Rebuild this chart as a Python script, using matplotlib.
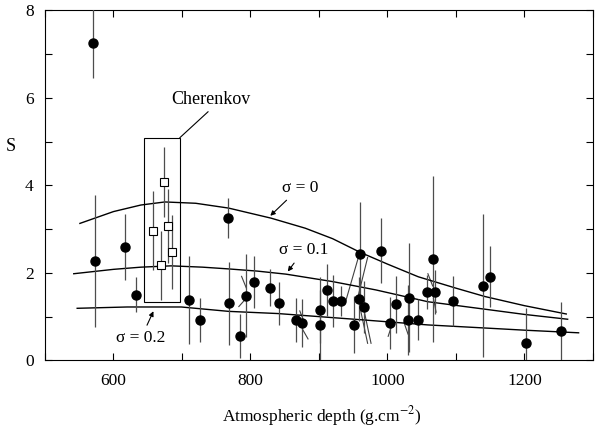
import numpy as np
import matplotlib
matplotlib.use("Agg")
from matplotlib import pyplot as plt

# --- data ---
# ground array points (filled circles)
depth = [570, 573, 617, 633, 710, 726, 767, 768, 784, 794, 805, 828, 842, 867, 875,
         901, 902, 911, 920, 932, 951, 958, 960, 965, 991, 1004, 1012, 1030, 1032,
         1045, 1058, 1067, 1069, 1095, 1140, 1149, 1202, 1254]
s_val = [7.25, 2.27, 2.59, 1.50, 1.38, 0.93, 3.25, 1.30, 0.56, 1.48, 1.79, 1.66, 1.30, 0.93, 0.86,
         1.15, 0.81, 1.61, 1.36, 1.36, 0.81, 1.40, 2.43, 1.22, 2.51, 0.85, 1.28, 0.93, 1.43,
         0.93, 1.56, 2.31, 1.56, 1.36, 1.71, 1.91, 0.39, 0.66]
s_err = [0.8, 1.5, 0.76, 0.4, 1.0, 0.5, 0.45, 0.95, 0.5, 0.95, 0.6, 0.42, 0.5, 0.5, 0.55,
         0.75, 0.8, 0.6, 0.6, 0.35, 0.65, 0.5, 1.2, 0.6, 0.75, 0.6, 0.65, 0.8, 1.25,
         0.47, 0.38, 1.9, 0.5, 0.57, 1.63, 0.7, 0.8, 0.67]

# Cherenkov points (open squares)
ch_depth = [658, 669, 674, 679, 686]
ch_s = [2.96, 2.17, 4.07, 3.07, 2.47]
ch_err = [0.9, 0.78, 0.8, 0.85, 0.85]

# model curves
sig0_x = [551, 600, 640, 675, 720, 768, 830, 880, 920, 960, 1000, 1045, 1100, 1142, 1200, 1261]
sig0_y = [3.13, 3.40, 3.55, 3.62, 3.59, 3.48, 3.25, 3.02, 2.78, 2.47, 2.20, 1.91, 1.65, 1.46, 1.25, 1.06]
sig1_x = [542, 600, 640, 684, 730, 768, 810, 852, 920, 983, 1059, 1142, 1200, 1263]
sig1_y = [1.98, 2.08, 2.13, 2.16, 2.13, 2.09, 2.04, 1.97, 1.80, 1.61, 1.34, 1.17, 1.05, 0.94]
sig2_x = [547, 620, 699, 768, 840, 900, 960, 1059, 1142, 1200, 1279]
sig2_y = [1.19, 1.22, 1.22, 1.12, 1.07, 1.00, 0.93, 0.81, 0.74, 0.69, 0.63]

# short offset lines tying shifted error bars to their points
leaders = [(958, 2.38, 939, 1.35), (971, 2.35, 957, 1.46), (965, 1.20, 976, 0.39),
           (960, 1.20, 971, 0.39), (787, 1.92, 794, 1.65), (783, 1.23, 791, 1.37),
           (878, 0.89, 872, 1.13), (884, 0.49, 876, 0.71), (1059, 1.98, 1066, 1.70),
           (1067, 1.42, 1071, 1.10), (1001, 0.55, 1008, 0.88), (1030, 0.60, 1024, 0.87)]

plt.rcParams['font.family'] = ['Liberation Serif', 'DejaVu Serif']
plt.rcParams['mathtext.fontset'] = 'stix'

fig = plt.figure(figsize=(5.95, 4.28), dpi=100)
ax = fig.add_axes([0.0756, 0.158, 0.921, 0.818])

for x0, y0, x1, y1 in leaders:
    ax.plot([x0, x1], [y0, y1], color='0.25', lw=0.8)

ax.plot(sig0_x, sig0_y, color='black', lw=1.0)
ax.plot(sig1_x, sig1_y, color='black', lw=1.0)
ax.plot(sig2_x, sig2_y, color='black', lw=1.0)

ax.errorbar(depth, s_val, yerr=s_err, fmt='o', color='black', ms=6.5,
            ecolor='0.3', elinewidth=0.9, capsize=0, zorder=3)
ax.errorbar(ch_depth, ch_s, yerr=ch_err, fmt='s', mfc='white', mec='black', mew=0.8,
            ms=6, ecolor='0.3', elinewidth=0.9, capsize=0, zorder=3)

# Cherenkov box and label
ax.add_patch(plt.Rectangle((644, 1.33), 53, 3.76, fill=False, ec='black', lw=0.8))
ax.plot([697, 738], [5.09, 5.68], color='black', lw=0.8)
ax.text(742, 5.95, 'Cherenkov', ha='center', va='center', fontsize=13)

arrow = dict(arrowstyle='-|>', color='black', lw=0.8, mutation_scale=7)
ax.annotate('σ = 0', xy=(826, 3.26), xytext=(872, 3.95), ha='center', va='center',
            fontsize=12.5, arrowprops=arrow)
ax.annotate('σ = 0.1', xy=(852, 1.98), xytext=(878, 2.52), ha='center', va='center',
            fontsize=12.5, arrowprops=arrow)
ax.annotate('σ = 0.2', xy=(660, 1.18), xytext=(640, 0.50), ha='center', va='center',
            fontsize=12.5, arrowprops=arrow)

ax.set_xlim(500, 1300)
ax.set_ylim(0, 8)
ax.set_xticks([600, 800, 1000, 1200])
ax.set_xticks(np.arange(500, 1301, 100), minor=True)
ax.set_yticks([0, 2, 4, 6, 8])
ax.set_yticks(np.arange(0, 8.1, 1), minor=True)
ax.tick_params(which='both', direction='in', top=True, right=True, labelsize=12.5,
               length=5, width=0.8)
ax.tick_params(axis='x', pad=9)
ax.tick_params(axis='y', pad=8)
for sp in ax.spines.values():
    sp.set_linewidth(0.8)

ax.set_xlabel('Atmospheric depth (g.cm$^{-2}$)', fontsize=12.5, va='center')
ax.xaxis.set_label_coords(0.505, -0.158)
ax.set_ylabel('S', fontsize=13, rotation=0, va='center')
ax.yaxis.set_label_coords(-0.062, 0.61)

plt.savefig('out.png', dpi=100)
